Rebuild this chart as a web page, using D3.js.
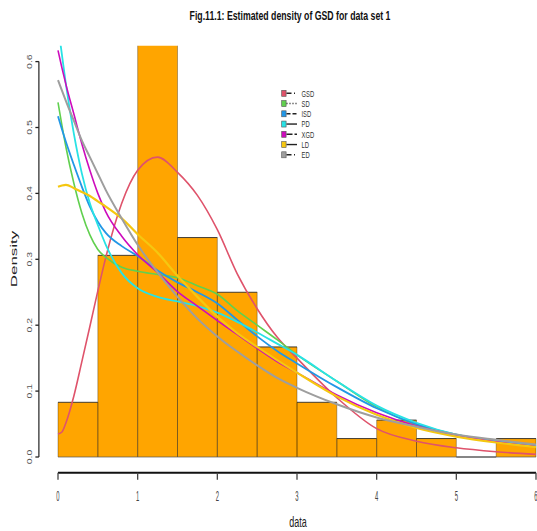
<!DOCTYPE html>
<html>
<head>
<meta charset="utf-8">
<script src="https://cdn.jsdelivr.net/npm/d3@7"></script>
<style>
  html, body { margin: 0; padding: 0; background: #ffffff; }
  svg { display: block; font-family: "Liberation Sans", Arial, sans-serif; }
</style>
</head>
<body>
<svg id="chart" width="537" height="531"></svg>
<script>
// Histogram of the data (bin width 0.5) as densities
const binEdges = [0, 0.5, 1, 1.5, 2, 2.5, 3, 3.5, 4, 4.5, 5, 5.5, 6];
const binDensity = [0.083, 0.306, 0.639, 0.333, 0.25, 0.167, 0.083, 0.028, 0.056, 0.028, 0, 0.028];

// Axis ticks
const xTicks = [0, 1, 2, 3, 4, 5, 6];
const xTickLabels = ["0", "1", "2", "3", "4", "5", "6"];
const yTicks = [0, 0.1, 0.2, 0.3, 0.4, 0.5, 0.6];
const yTickLabels = ["0.0", "0.1", "0.2", "0.3", "0.4", "0.5", "0.6"];

// Fitted densities, evaluated on a common grid
const models = ["GSD", "SD", "ISD", "PD", "XGD", "LD", "ED"];
const modelColors = ["#DF536B", "#61D04F", "#2297E6", "#28E2E5", "#CD0BBC", "#F5C710", "#9E9E9E"];
const legendDash = ["5,2.5,1,2.5", "1,2", "4,2", null, "6,2", null, "5,2.5,1,2.5"];

const xGrid = [0, 0.05, 0.1, 0.2, 0.3, 0.4, 0.5, 0.6, 0.8, 1.0, 1.25, 1.5, 1.75, 2.0, 2.25, 2.5, 2.75, 3.0, 3.5, 4.0, 4.5, 5.0, 5.5, 6.0];
const densGSD = [0.035, 0.038, 0.052, 0.093, 0.145, 0.198, 0.252, 0.303, 0.385, 0.435, 0.455, 0.432, 0.397, 0.345, 0.278, 0.225, 0.182, 0.15, 0.09, 0.043, 0.024, 0.014, 0.008, 0.004];
const densSD  = [0.538, 0.503, 0.47, 0.415, 0.37, 0.337, 0.315, 0.303, 0.288, 0.282, 0.277, 0.272, 0.26, 0.247, 0.222, 0.2, 0.178, 0.155, 0.115, 0.076, 0.049, 0.033, 0.024, 0.016];
const densISD = [0.517, 0.497, 0.478, 0.443, 0.41, 0.38, 0.357, 0.34, 0.32, 0.305, 0.283, 0.265, 0.25, 0.233, 0.208, 0.183, 0.161, 0.142, 0.106, 0.074, 0.05, 0.034, 0.024, 0.016];
const densPD  = [0.655, 0.61, 0.565, 0.49, 0.43, 0.385, 0.352, 0.322, 0.279, 0.256, 0.243, 0.236, 0.229, 0.219, 0.205, 0.189, 0.172, 0.155, 0.115, 0.078, 0.052, 0.034, 0.024, 0.018];
const densXGD = [0.617, 0.59, 0.565, 0.52, 0.475, 0.435, 0.40, 0.372, 0.335, 0.307, 0.28, 0.251, 0.229, 0.207, 0.186, 0.165, 0.145, 0.128, 0.094, 0.067, 0.047, 0.033, 0.023, 0.016];
const densLD  = [0.41, 0.412, 0.413, 0.408, 0.402, 0.396, 0.388, 0.38, 0.362, 0.338, 0.31, 0.275, 0.243, 0.213, 0.188, 0.167, 0.147, 0.128, 0.092, 0.064, 0.044, 0.031, 0.022, 0.015];
const densED  = [0.572, 0.556, 0.54, 0.51, 0.48, 0.455, 0.43, 0.405, 0.362, 0.322, 0.28, 0.243, 0.21, 0.183, 0.16, 0.139, 0.12, 0.105, 0.08, 0.06, 0.046, 0.034, 0.026, 0.019];
const modelDensities = [densGSD, densSD, densISD, densPD, densXGD, densLD, densED];
const modelWidths = [1.6, 1.6, 1.8, 1.8, 1.6, 2.2, 2.0];

const titleText = "Fig.11.1: Estimated density of GSD for data set 1";
const xLabel = "data";
const yLabel = "Density";

const svg = d3.select("#chart");

// Scales: plot region is 0..6 horizontally, 0..0.6 vertically with R-style padding
const x = d3.scaleLinear().domain([0, 6]).range([58, 536]);
const y = d3.scaleLinear().domain([0, 0.6]).range([457, 61.6]);
const plotTop = y(0.624), plotBottom = y(-0.024), plotLeft = x(-0.24);

svg.append("defs").append("clipPath").attr("id", "plotClip")
  .append("rect")
  .attr("x", plotLeft).attr("y", plotTop)
  .attr("width", 537 - plotLeft).attr("height", plotBottom - plotTop);

const plot = svg.append("g").attr("clip-path", "url(#plotClip)");

// Histogram bars
const bins = binDensity.map((d, i) => ({ x0: binEdges[i], x1: binEdges[i + 1], d }));
plot.selectAll("rect.bar").data(bins).join("rect")
  .attr("class", "bar")
  .attr("x", b => x(b.x0))
  .attr("y", b => y(b.d))
  .attr("width", b => x(b.x1) - x(b.x0))
  .attr("height", b => y(0) - y(b.d))
  .attr("fill", b => b.d > 0 ? "#FFA500" : "none");

// Bar outlines: thin vertical edges, darker horizontal edges
plot.selectAll("path.barside").data(bins).join("path")
  .attr("class", "barside")
  .attr("d", b => `M${x(b.x0)},${y(0)}V${y(b.d)}M${x(b.x1)},${y(0)}V${y(b.d)}`)
  .attr("stroke", "#000").attr("stroke-opacity", 0.3).attr("stroke-width", 1).attr("fill", "none");
plot.selectAll("path.bartop").data(bins).join("path")
  .attr("class", "bartop")
  .attr("d", b => `M${x(b.x0)},${y(b.d)}H${x(b.x1)}`)
  .attr("stroke", "#222").attr("stroke-opacity", 0.85).attr("stroke-width", 1).attr("fill", "none");
plot.append("path")
  .attr("d", `M${x(binEdges[0])},${y(0)}H${x(binEdges[binEdges.length - 1])}`)
  .attr("stroke", "#555").attr("stroke-opacity", 0.7).attr("stroke-width", 1.2);

// Density curves
const line = d3.line()
  .x(p => x(p[0]))
  .y(p => y(p[1]))
  .curve(d3.curveMonotoneX);

models.forEach((m, i) => {
  const pts = xGrid.map((gx, k) => [gx, modelDensities[i][k]]);
  plot.append("path")
    .attr("d", line(pts))
    .attr("fill", "none")
    .attr("stroke", modelColors[i])
    .attr("stroke-width", modelWidths[i])
    .attr("stroke-linejoin", "round");
});

// Text with horizontally condensed glyphs
function condensed(parent, px, py, str, opt) {
  const rot = opt.rotate || 0;
  const sc = rot ? `scale(1,${opt.sx})` : `scale(${opt.sx},1)`;
  return parent.append("g")
    .attr("transform", `translate(${px},${py}) rotate(${rot}) ${sc}`)
    .append("text")
    .attr("text-anchor", opt.anchor || "middle")
    .attr("font-size", opt.size)
    .attr("font-weight", opt.weight || "normal")
    .attr("fill", opt.fill || "#000")
    .text(str);
}

// X axis
const xAxisY = plotBottom;
svg.append("path")
  .attr("d", `M${x(xTicks[0])},${xAxisY}H${x(xTicks[xTicks.length - 1])}`)
  .attr("stroke", "#111").attr("stroke-width", 2);
xTicks.forEach((t, i) => {
  svg.append("path").attr("d", `M${x(t)},${xAxisY}V${xAxisY + 7}`)
    .attr("stroke", "#444").attr("stroke-width", 1.3);
  condensed(svg, x(t), 500.5, xTickLabels[i], { size: 14, sx: 0.42, fill: "#444" });
});

// Y axis
svg.append("path")
  .attr("d", `M${plotLeft},${y(yTicks[0])}V${y(yTicks[yTicks.length - 1])}`)
  .attr("stroke", "#333").attr("stroke-width", 1.3);
yTicks.forEach((t, i) => {
  svg.append("path").attr("d", `M${plotLeft},${y(t)}H${plotLeft - 3.5}`)
    .attr("stroke", "#222").attr("stroke-width", 1.3);
  condensed(svg, 31.7, y(t), yTickLabels[i], { size: 10.5, sx: 0.76, rotate: -90, fill: "#555" });
});

// Titles
condensed(svg, 290, 19.5, titleText, { size: 12.5, sx: 0.7, weight: "bold", fill: "#111" });
condensed(svg, 298, 526.5, xLabel, { size: 15, sx: 0.6, fill: "#222" });
condensed(svg, 16.7, 259, yLabel, { size: 17, sx: 0.55, rotate: -90, fill: "#222" });

// Legend
const legend = svg.append("g");
models.forEach((m, i) => {
  const cy = 93.3 + i * 10.25;
  legend.append("rect")
    .attr("x", 281.7).attr("y", cy - 3).attr("width", 4.4).attr("height", 6)
    .attr("fill", modelColors[i]).attr("stroke", "#555").attr("stroke-width", 0.6);
  legend.append("path")
    .attr("d", `M286.5,${cy}H297`)
    .attr("stroke", "#222").attr("stroke-width", 1.4)
    .attr("stroke-dasharray", legendDash[i]);
  condensed(legend, 301.5, cy + 3.2, m, { size: 8.6, sx: 0.68, anchor: "start", fill: "#333" });
});
</script>
</body>
</html>
